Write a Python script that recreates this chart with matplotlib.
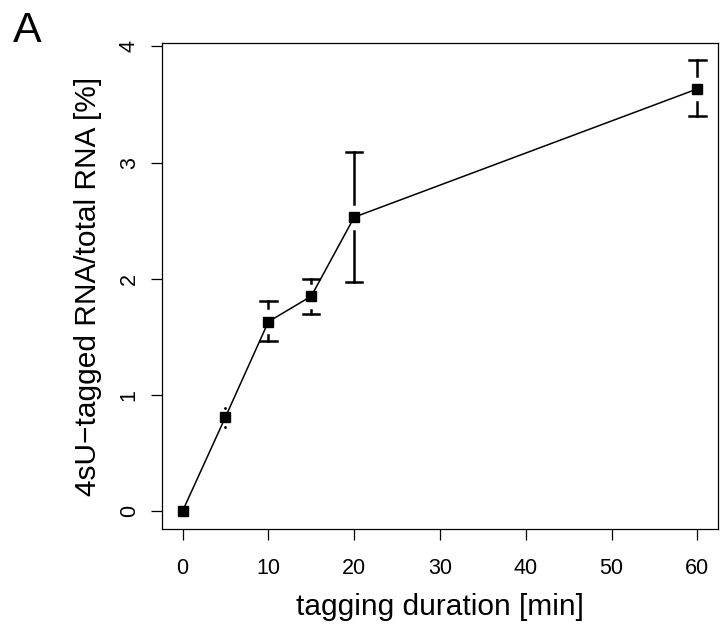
import matplotlib
matplotlib.use("Agg")
import matplotlib.pyplot as plt
import numpy as np

plt.rcParams['font.family'] = ['Liberation Sans', 'DejaVu Sans']

duration = [0, 5, 10, 15, 20, 60]
fraction = [0.0, 0.81, 1.63, 1.85, 2.53, 3.635]
upper = [0.0, 0.89, 1.81, 2.00, 3.09, 3.88]
lower = [0.0, 0.72, 1.46, 1.70, 1.97, 3.40]
xticks = [0, 10, 20, 30, 40, 50, 60]
yticks = [0, 1, 2, 3, 4]

fig = plt.figure(figsize=(7.23, 6.28), dpi=100)
ax = fig.add_axes([162/723, 1-529/628, (718-162)/723, (529-43)/628])

ax.plot(duration, fraction, color='black', lw=1.1, zorder=2)
ax.plot(duration, fraction, 's', color='black', ms=6.5, zorder=3)

# error bars with gap around point (plotrix plotCI style)
gap = 0.115
capw = 0.95
for x, y, u, l in zip(duration, fraction, upper, lower):
    if u - l <= 0:
        continue
    for end in (u, l):
        sgn = 1 if end > y else -1
        if abs(end - y) > gap:
            ax.plot([x, x], [y + sgn*gap, end], color='black', lw=1.8, zorder=2)
            ax.plot([x - capw, x + capw], [end, end], color='black', lw=1.8, zorder=2)
        else:
            ax.plot([x], [end], '.', color='black', ms=2.0, zorder=2)

ax.set_xlim(-2.4, 62.4)
ax.set_ylim(-0.155, 4.03)
ax.set_xticks(xticks)
ax.set_yticks(yticks)
ax.tick_params(length=8, width=0.9, labelsize=15.5, pad=13)
ax.tick_params(axis='y', pad=8)
for lab in ax.get_yticklabels():
    lab.set_rotation(90)
    lab.set_va('center')
for s in ax.spines.values():
    s.set_linewidth(0.9)

ax.set_xlabel('tagging duration [min]', fontsize=21.5, labelpad=10)
ax.set_ylabel('4sU\u2212tagged RNA/total RNA [%]', fontsize=21.5, labelpad=12)

fig.text(13/723, 1-42/628, 'A', fontsize=31, ha='left', va='baseline')

fig.savefig('out.png', dpi=100)
